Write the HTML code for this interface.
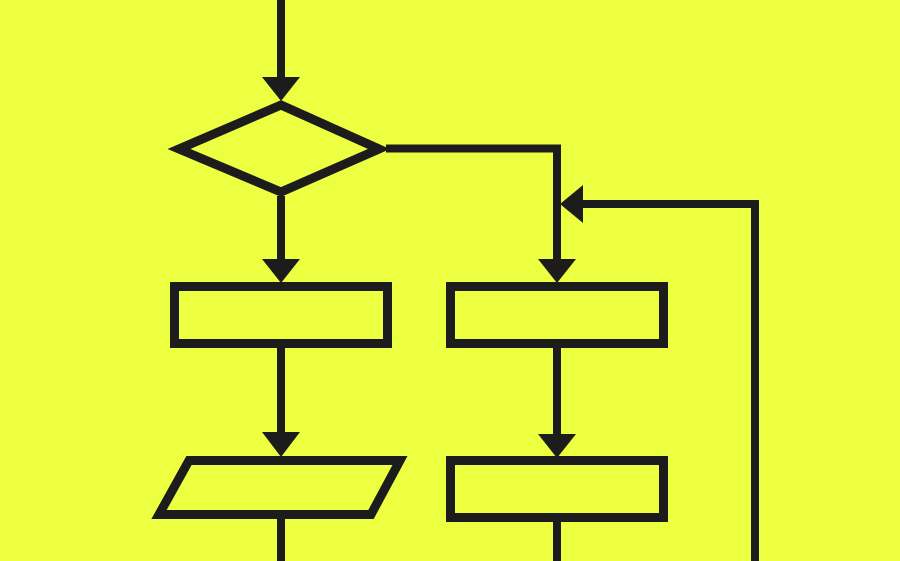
<!DOCTYPE html>
<html><head><style>html,body{margin:0;padding:0;background:#ecff40;}svg{display:block}</style></head>
<body>
<svg width="900" height="561" viewBox="0 0 900 561" xmlns="http://www.w3.org/2000/svg">
<rect width="900" height="561" fill="#ecff40"/>
<g stroke="#1c1c1c" stroke-width="8" fill="none">
<line x1="281" y1="0" x2="281" y2="80"/>
<polygon points="281,105 379,149 281,192 179,149" stroke-width="9" stroke-linejoin="miter" stroke-miterlimit="10"/>
<line x1="281" y1="196" x2="281" y2="262"/>
<rect x="174.5" y="286.5" width="213" height="57" stroke-width="9"/>
<line x1="281" y1="348" x2="281" y2="434"/>
<polygon points="189,460.5 400,460.5 371,514.5 159,514.5" stroke-width="9"/>
<line x1="281" y1="519" x2="281" y2="561"/>
<polyline points="386,148.5 557,148.5 557,262"/>
<rect x="450.5" y="286.5" width="213" height="57" stroke-width="9"/>
<line x1="557" y1="348" x2="557" y2="436"/>
<rect x="450.5" y="460.5" width="213" height="57" stroke-width="9"/>
<line x1="557" y1="522" x2="557" y2="561"/>
<polyline points="755,561 755,204 580,204"/>
</g>
<g fill="#1c1c1c">
<polygon points="262,77 300,77 281,101"/>
<polygon points="262,259 300,259 281,283"/>
<polygon points="262,432 300,432 281,457"/>
<polygon points="538,259 576,259 557,283"/>
<polygon points="538,434 576,434 557,458"/>
<polygon points="583,185 583,223 560,204"/>
</g>
</svg>
</body></html>
